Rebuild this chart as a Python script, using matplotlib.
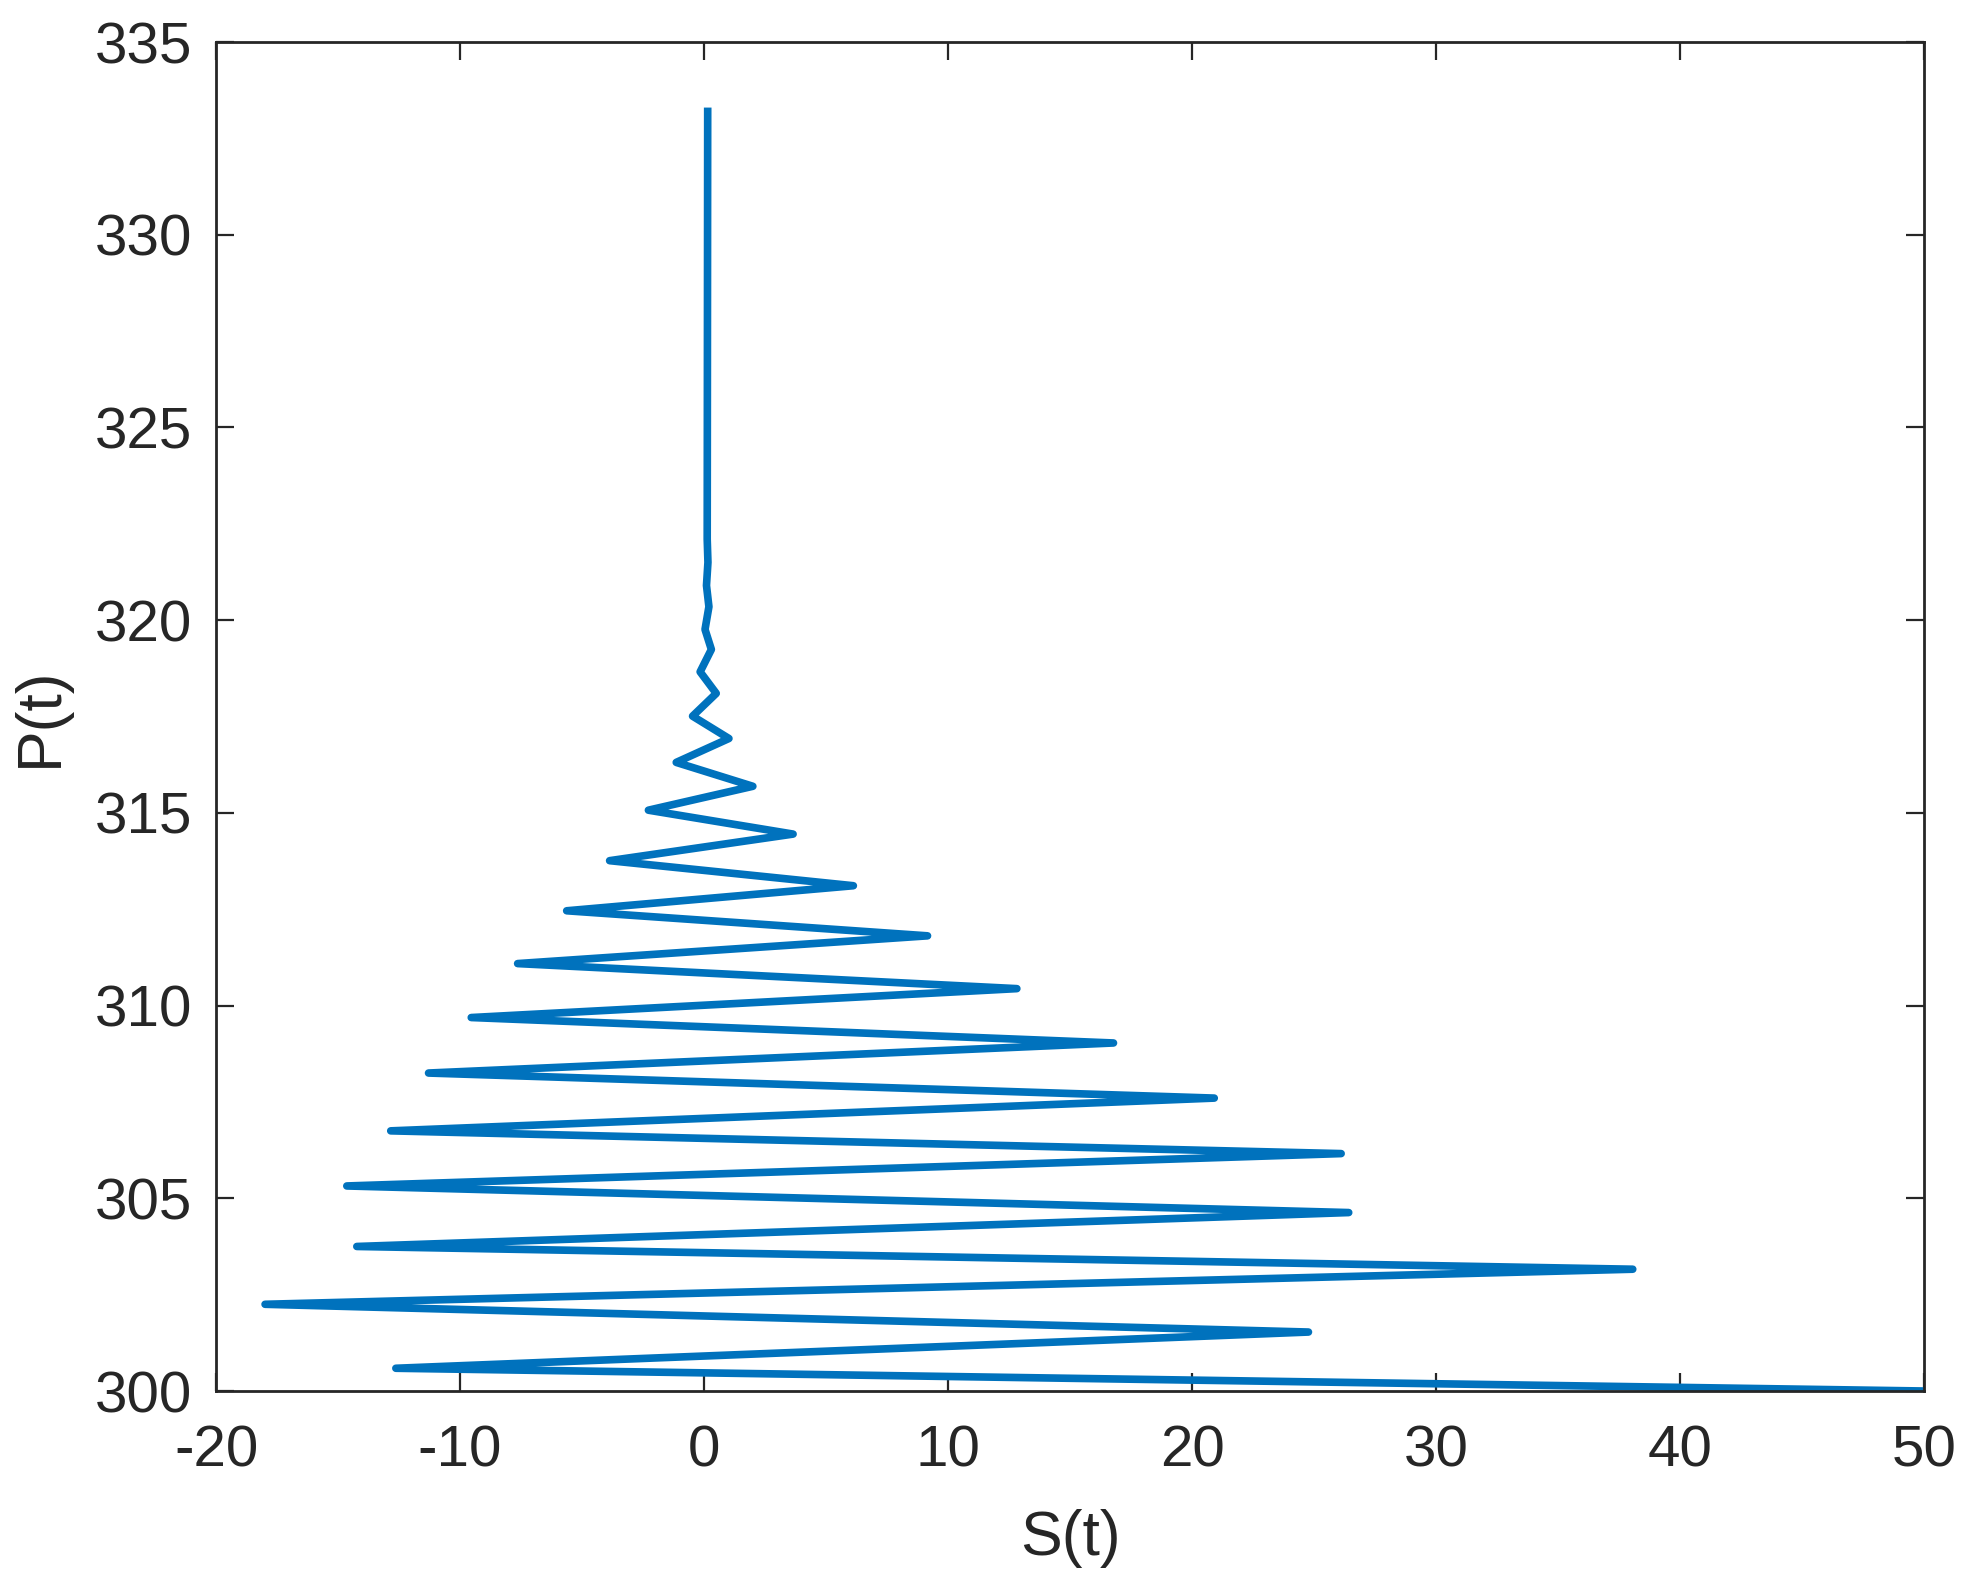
"""
S(t) - P(t) 相图, MATLAB 风格
"""
import matplotlib
matplotlib.use("Agg")
import matplotlib.pyplot as plt

# 折线顶点
S = [50, -12.63, 24.77, -17.99, 38.06, -14.23, 26.42, -14.64, 26.11, -12.84,
     20.91, -11.29, 16.78, -9.54, 12.82, -7.64, 9.16, -5.63, 6.12, -3.87,
     3.65, -2.28, 2.00, -1.14, 1.02, -0.47, 0.50, -0.16, 0.30, 0.04,
     0.20, 0.10, 0.16, 0.13, 0.15]
P = [300.00, 300.59, 301.53, 302.25, 303.16, 303.75, 304.63, 305.32, 306.16, 306.75,
     307.60, 308.25, 309.03, 309.69, 310.44, 311.09, 311.81, 312.46, 313.11, 313.76,
     314.45, 315.07, 315.69, 316.31, 316.93, 317.51, 318.10, 318.66, 319.24, 319.76,
     320.35, 320.90, 321.50, 322.10, 333.30]

xticks = [-20, -10, 0, 10, 20, 30, 40, 50]
yticks = [300, 305, 310, 315, 320, 325, 330, 335]

plt.rcParams["font.family"] = ["Liberation Sans", "DejaVu Sans"]
plt.rcParams["axes.unicode_minus"] = False
text_color = "#262626"

fig = plt.figure(figsize=(19.71, 15.93), dpi=100)
ax = fig.add_axes([0.1096, 0.1268, 0.8666, 0.8468])

ax.plot(S, P, color="#0072BD", linewidth=5.5, solid_joinstyle="round",
        solid_capstyle="butt")

ax.set_xlim(-20, 50)
ax.set_ylim(300, 335)
ax.set_xticks(xticks)
ax.set_yticks(yticks)
ax.tick_params(direction="in", length=13, width=1.6, top=True, right=True,
               labelsize=42, colors=text_color)
ax.tick_params(axis="x", pad=24)
ax.tick_params(axis="y", pad=17)
for sp in ax.spines.values():
    sp.set_linewidth(2.0)
    sp.set_color(text_color)

ax.set_xlabel("S(t)", fontsize=45, color=text_color, labelpad=22)
ax.set_ylabel("P(t)", fontsize=45, color=text_color, labelpad=18)

fig.savefig("out.png", dpi=100)
